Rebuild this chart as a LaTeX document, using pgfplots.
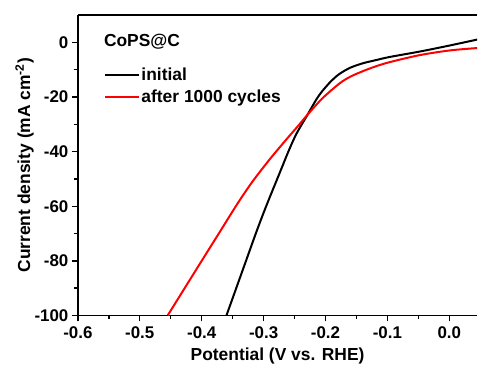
\documentclass[border=0pt]{standalone}
\usepackage{pgfplots}
\pgfplotsset{compat=1.18}
\usetikzlibrary{calc}
\usepackage{fontspec}
\setmainfont{Liberation Sans}
\begin{document}
\begin{tikzpicture}
\begin{axis}[
  name=ax,
  scale only axis,
  width=400bp, height=301bp,
  xmin=-0.6, xmax=0.045,
  ymin=-100, ymax=10,
  axis x line*=box,
  axis y line*=left,
  axis line style={line width=1.6bp},
  xtick={-0.6,-0.5,-0.4,-0.3,-0.2,-0.1,0},
  ytick={-100,-80,-60,-40,-20,0},
  minor x tick num=1,
  minor y tick num=1,
  xtick pos=bottom,
  ytick pos=left,
  tick align=outside,
  major tick length=6bp,
  minor tick length=3.5bp,
  tick style={line width=1.4bp, black},
  xticklabel style={/pgf/number format/fixed, /pgf/number format/fixed zerofill, /pgf/number format/precision=1, yshift=-2bp},
  /pgf/number format/assume math mode=true,
  ticklabel style={font=\fontsize{17}{19}\selectfont\bfseries},
  xlabel={Potential (V vs. RHE)},
  ylabel={Current density (mA cm\textsuperscript{-2})},
  label style={font=\fontsize{17.5}{20}\selectfont\bfseries},
  xlabel style={yshift=-2bp},
  ylabel style={yshift=-6bp},
  legend cell align=left,
  legend style={draw=none, fill=none, at={(rel axis cs:0.065,0.83)}, anchor=north west,
    inner sep=0pt, row sep=5bp, font=\fontsize{17.5}{20}\selectfont\bfseries,
    nodes={inner sep=1.5bp}},
  legend image code/.code={\draw[#1](0bp,0bp)--(34bp,0bp);},
]
\addplot[black, line width=2bp, smooth] coordinates {
(-0.360,-100) (-0.330,-81) (-0.311,-69) (-0.295,-59.5) (-0.274,-47.8) (-0.260,-40)
(-0.247,-33.5) (-0.229,-26.5) (-0.215,-21) (-0.205,-17.8) (-0.19,-14) (-0.177,-11.5)
(-0.16,-9.3) (-0.14,-7.7) (-0.12,-6.6) (-0.097,-5.4) (-0.048,-3.4) (0,-1.2) (0.045,1.0)
};
\addlegendentry{initial}
\addplot[red, line width=2bp, smooth] coordinates {
(-0.455,-100) (-0.400,-80) (-0.371,-69.5) (-0.342,-59) (-0.318,-51) (-0.290,-42.8)
(-0.263,-35.5) (-0.245,-30.8) (-0.229,-26.5) (-0.205,-20.5) (-0.177,-15) (-0.16,-12.6)
(-0.14,-10.6) (-0.12,-8.9) (-0.097,-7.3) (-0.048,-4.7) (0,-3.0) (0.045,-2.1)
};
\addlegendentry{after 1000 cycles}
\node[anchor=west, font=\fontsize{17.5}{20}\selectfont\bfseries, inner sep=0pt] at (rel axis cs:0.065,0.91) {CoPS@C};
\end{axis}
\path ($(ax.south west)+(-78bp,-49bp)$) rectangle ($(ax.north east)+(0bp,15bp)$);
\end{tikzpicture}
\end{document}
